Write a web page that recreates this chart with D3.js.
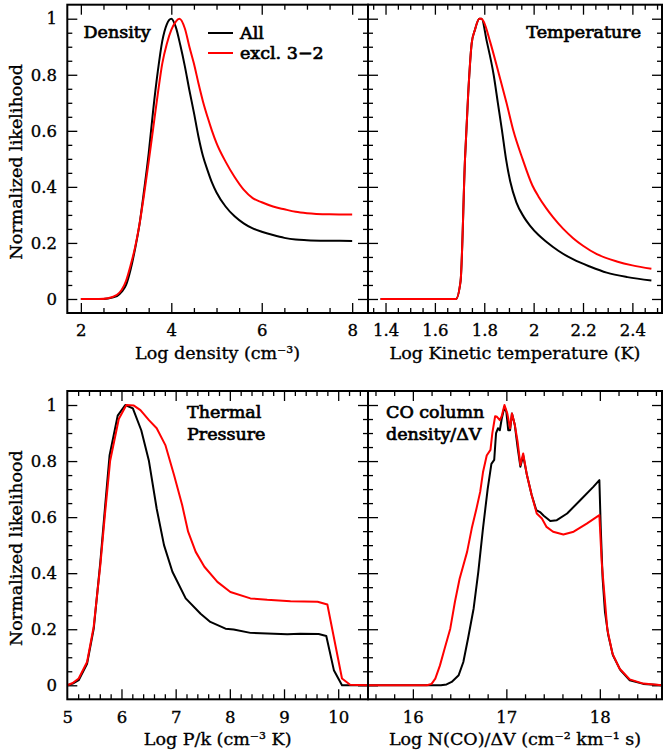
<!DOCTYPE html>
<html><head><meta charset="utf-8">
<script src="https://cdn.jsdelivr.net/npm/d3@7"></script>
<style>body{margin:0;background:#fff}svg{display:block}</style>
</head><body>
<svg id="c" width="663" height="755"></svg>
<script>
// ---------------- DATA ----------------
const seriesNames = ["All", "excl. 3\u22122"];
const seriesColors = ["#000000", "#ff0000"];

const densityAll = [[2.0,0],[2.4,0],[2.6,0.002],[2.8,0.01],[2.9,0.025],[3.0,0.05],[3.1,0.105],[3.2,0.18],[3.3,0.27],[3.4,0.39],[3.5,0.52],[3.6,0.675],[3.7,0.81],[3.8,0.92],[3.9,0.98],[4.0,1.0],[4.1,0.97],[4.2,0.905],[4.3,0.83],[4.4,0.745],[4.5,0.665],[4.6,0.58],[4.7,0.51],[4.8,0.46],[4.9,0.415],[5.0,0.38],[5.2,0.33],[5.4,0.295],[5.6,0.27],[5.8,0.252],[6.0,0.24],[6.25,0.228],[6.5,0.218],[6.75,0.212],[7.0,0.21],[7.5,0.208],[8.0,0.207]];
const densityExcl = [[2.0,0],[2.4,0],[2.6,0.003],[2.8,0.015],[2.9,0.032],[3.0,0.065],[3.1,0.12],[3.2,0.185],[3.3,0.27],[3.4,0.375],[3.5,0.49],[3.6,0.61],[3.7,0.73],[3.8,0.84],[3.9,0.91],[4.0,0.96],[4.1,0.99],[4.18,1.0],[4.3,0.965],[4.4,0.9],[4.5,0.84],[4.6,0.77],[4.7,0.705],[4.8,0.65],[4.9,0.6],[5.0,0.556],[5.2,0.49],[5.4,0.435],[5.6,0.39],[5.8,0.36],[6.0,0.345],[6.25,0.33],[6.5,0.32],[6.75,0.311],[7.0,0.306],[7.5,0.302],[8.0,0.301]];

const temperatureAll = [[1.38,0],[1.685,0],[1.704,0.064],[1.722,0.50],[1.735,0.734],[1.749,0.912],[1.762,0.96],[1.78,1.0],[1.789,1.0],[1.81,0.92],[1.838,0.8],[1.855,0.70],[1.872,0.6],[1.888,0.5],[1.905,0.42],[1.93,0.345],[1.96,0.293],[1.985,0.262],[2.02,0.228],[2.05,0.205],[2.1,0.172],[2.161,0.141],[2.23,0.115],[2.296,0.094],[2.38,0.078],[2.477,0.066]];
const temperatureExcl = [[1.38,0],[1.685,0],[1.704,0.064],[1.722,0.50],[1.735,0.734],[1.749,0.912],[1.762,0.96],[1.78,1.0],[1.789,1.0],[1.80,0.985],[1.823,0.92],[1.86,0.8],[1.89,0.70],[1.918,0.6],[1.955,0.5],[1.995,0.405],[2.02,0.365],[2.05,0.325],[2.08,0.29],[2.12,0.25],[2.16,0.217],[2.2,0.19],[2.256,0.16],[2.337,0.134],[2.4,0.12],[2.477,0.108]];

const pressureAll = [[5.0,0],[5.1,0.006],[5.21,0.018],[5.365,0.077],[5.488,0.202],[5.61,0.44],[5.70,0.643],[5.78,0.82],[5.93,0.962],[6.07,1.0],[6.21,0.988],[6.365,0.91],[6.507,0.80],[6.65,0.63],[6.785,0.50],[6.94,0.405],[7.185,0.31],[7.46,0.255],[7.64,0.226],[7.92,0.202],[8.07,0.199],[8.38,0.187],[8.69,0.185],[9.06,0.182],[9.30,0.184],[9.64,0.183],[9.78,0.176],[9.92,0.054],[10.07,0],[10.55,0]];
const pressureExcl = [[5.0,0],[5.1,0.008],[5.21,0.024],[5.365,0.083],[5.488,0.21],[5.61,0.43],[5.70,0.62],[5.79,0.80],[5.95,0.95],[6.09,1.0],[6.229,0.998],[6.35,0.982],[6.507,0.946],[6.65,0.917],[6.81,0.857],[6.97,0.75],[7.12,0.643],[7.23,0.548],[7.37,0.476],[7.53,0.423],[7.77,0.369],[8.01,0.333],[8.38,0.31],[8.69,0.305],[9.12,0.30],[9.62,0.298],[9.80,0.288],[10.07,0.024],[10.22,0.002],[10.55,0]];

const columnAll = [[15.52,0],[16.3,0],[16.36,0.003],[16.415,0.012],[16.49,0.036],[16.54,0.083],[16.59,0.167],[16.65,0.274],[16.70,0.405],[16.75,0.56],[16.80,0.70],[16.84,0.79],[16.87,0.804],[16.89,0.90],[16.91,0.917],[16.93,0.91],[16.95,0.95],[16.98,0.994],[17.0,0.975],[17.02,0.91],[17.04,0.91],[17.06,0.97],[17.09,0.93],[17.12,0.85],[17.15,0.78],[17.18,0.82],[17.22,0.75],[17.27,0.68],[17.32,0.625],[17.36,0.618],[17.40,0.605],[17.47,0.586],[17.54,0.589],[17.65,0.613],[17.79,0.66],[17.93,0.708],[17.995,0.732],[18.01,0.56],[18.03,0.38],[18.055,0.262],[18.09,0.179],[18.14,0.107],[18.22,0.054],[18.32,0.018],[18.465,0.005],[18.665,0]];
const columnExcl = [[15.52,0],[16.15,0],[16.20,0.005],[16.24,0.024],[16.29,0.071],[16.34,0.131],[16.40,0.202],[16.45,0.298],[16.50,0.38],[16.58,0.476],[16.63,0.56],[16.68,0.63],[16.72,0.69],[16.75,0.76],[16.79,0.82],[16.83,0.84],[16.85,0.90],[16.88,0.96],[16.90,0.958],[16.93,0.946],[16.95,0.96],[16.98,1.0],[17.01,0.97],[17.04,0.917],[17.06,0.97],[17.09,0.93],[17.12,0.87],[17.15,0.786],[17.18,0.827],[17.22,0.75],[17.27,0.68],[17.325,0.613],[17.38,0.595],[17.43,0.565],[17.50,0.548],[17.61,0.538],[17.72,0.548],[17.86,0.577],[17.995,0.607],[18.02,0.44],[18.05,0.32],[18.08,0.2],[18.135,0.113],[18.21,0.06],[18.32,0.021],[18.465,0.006],[18.665,0]];

const yTickValues = [0, 0.2, 0.4, 0.6, 0.8, 1];
const yTickLabels = ["0", "0.2", "0.4", "0.6", "0.8", "1"];
const densityTicks = [2, 4, 6, 8];
const temperatureTicks = [1.4, 1.6, 1.8, 2.0, 2.2, 2.4];
const temperatureTickLabels = ["1.4", "1.6", "1.8", "2", "2.2", "2.4"];
const pressureTicks = [5, 6, 7, 8, 9, 10];
const columnTicks = [16, 17, 18];

// ---------------- LAYOUT ----------------
const svg = d3.select("#c");
const FONT = "'DejaVu Serif', serif";
const colPx = [[67.3, 368], [368, 662]];
const rowPx = [[4.7, 313], [391, 699.3]];
const MAJ = 10, MIN = 5;

function stepValues(d0, d1, step) {
  const out = [];
  const s = Math.ceil(d0 / step - 1e-9);
  for (let k = s; k * step <= d1 + 1e-9; k++) out.push(+(k * step).toFixed(6));
  return out;
}

function drawAxis(g, gen, scale, values, size, fmt, pad) {
  const a = gen(scale).tickValues(values).tickSize(-size).tickPadding(pad || 0).tickFormat(fmt || (() => ""));
  g.call(a);
  g.select(".domain").remove();
  g.selectAll("line").attr("stroke", "#000").attr("stroke-width", 1.3);
  g.attr("font-family", FONT).attr("font-size", 16.5);
  g.selectAll("text").attr("fill", "#000").attr("stroke", "#000").attr("stroke-width", 0.35);
}

function panel(cfg) {
  const [x0, x1] = colPx[cfg.col];
  const [y0, y1] = rowPx[cfg.row];
  const x = d3.scaleLinear().domain(cfg.xDomain).range([x0, x1]);
  const y = d3.scaleLinear().domain([-0.05, 1.05]).range([y1, y0]);
  const g = svg.append("g");

  const inside = (sc, v) => { const p = sc(v); const r = sc.range(); return p > Math.min(...r) + 1 && p < Math.max(...r) - 1; };
  const xMinor = stepValues(cfg.xDomain[0], cfg.xDomain[1], cfg.xMinorStep)
      .filter(v => inside(x, v) && !cfg.xMajor.some(m => Math.abs(m - v) < 1e-6));
  const yMinor = stepValues(-0.05, 1.05, 0.05)
      .filter(v => inside(y, v) && !yTickValues.some(m => Math.abs(m - v) < 1e-6));

  const xMajorIn = cfg.xMajor.filter(v => inside(x, v));
  const lblMap = new Map(cfg.xMajor.map((v, i) => [v, cfg.xLabels[i]]));
  const bx = g.append("g").attr("transform", `translate(0,${y1})`);
  drawAxis(bx, d3.axisBottom, x, cfg.xMajor, MAJ, v => lblMap.get(v), 11.5);
  bx.selectAll("g.tick").filter(v => !inside(x, v)).select("line").remove();
  drawAxis(g.append("g").attr("transform", `translate(0,${y1})`), d3.axisBottom, x, xMinor, MIN);
  drawAxis(g.append("g").attr("transform", `translate(0,${y0})`), d3.axisTop, x, xMajorIn, MAJ);
  drawAxis(g.append("g").attr("transform", `translate(0,${y0})`), d3.axisTop, x, xMinor, MIN);
  const yLbl = new Map(yTickValues.map((v, i) => [v, yTickLabels[i]]));
  drawAxis(g.append("g").attr("transform", `translate(${x0},0)`), d3.axisLeft, y, yTickValues, MAJ, cfg.col === 0 ? (v => yLbl.get(v)) : null, 10.3);
  drawAxis(g.append("g").attr("transform", `translate(${x0},0)`), d3.axisLeft, y, yMinor, MIN);
  drawAxis(g.append("g").attr("transform", `translate(${x1},0)`), d3.axisRight, y, yTickValues, MAJ);
  drawAxis(g.append("g").attr("transform", `translate(${x1},0)`), d3.axisRight, y, yMinor, MIN);

  const line = d3.line().x(d => x(d[0])).y(d => y(d[1])).curve(cfg.curve);
  cfg.series.forEach((s, i) => {
    g.append("path").datum(s).attr("d", line).attr("fill", "none")
      .attr("stroke", seriesColors[i]).attr("stroke-width", 2).attr("stroke-linejoin", "round");
  });

  g.append("rect").attr("x", x0).attr("y", y0).attr("width", x1 - x0).attr("height", y1 - y0)
    .attr("fill", "none").attr("stroke", "#000").attr("stroke-width", 2);

  g.append("text").attr("x", (x0 + x1) / 2).attr("y", y1 + 45.5)
    .attr("text-anchor", "middle").attr("font-family", FONT).attr("font-size", 17.5)
    .attr("fill", "#000").attr("stroke", "#000").attr("stroke-width", 0.35)
    .text(cfg.xTitle);

  if (cfg.col === 0) {
    g.append("text").attr("transform", `translate(21.5,${(y0 + y1) / 2 + 3}) rotate(-90)`)
      .attr("text-anchor", "middle").attr("font-family", FONT).attr("font-size", 17.5)
      .attr("fill", "#000").attr("stroke", "#000").attr("stroke-width", 0.35)
      .text("Normalized likelihood");
  }
  cfg.label.forEach((ln, i) => {
    g.append("text").attr("x", cfg.labelX).attr("y", cfg.labelY + i * 21.5)
      .attr("text-anchor", cfg.labelAnchor).attr("font-family", FONT).attr("font-size", 17.5)
      .attr("fill", "#000").attr("stroke", "#000").attr("stroke-width", 0.7).text(ln);
  });
  return { g, x, y };
}

const p1 = panel({ col: 0, row: 0, xDomain: [1.7, 8.35], xMajor: densityTicks, xLabels: densityTicks.map(String), xMinorStep: 0.5,
  xTitle: "Log density (cm\u207B\u00B3)", series: [densityAll, densityExcl], curve: d3.curveMonotoneX,
  label: ["Density"], labelX: 83.5, labelY: 38.3, labelAnchor: "start" });
panel({ col: 1, row: 0, xDomain: [1.329, 2.52], xMajor: temperatureTicks, xLabels: temperatureTickLabels, xMinorStep: 0.05,
  xTitle: "Log Kinetic temperature (K)", series: [temperatureAll, temperatureExcl], curve: d3.curveMonotoneX,
  label: ["Temperature"], labelX: 641, labelY: 37.8, labelAnchor: "end" });
panel({ col: 0, row: 1, xDomain: [5, 10.55], xMajor: pressureTicks, xLabels: pressureTicks.map(String), xMinorStep: 0.2,
  xTitle: "Log P/k (cm\u207B\u00B3 K)", series: [pressureAll, pressureExcl], curve: d3.curveLinear,
  label: ["Thermal", "Pressure"], labelX: 187, labelY: 418.3, labelAnchor: "start" });
panel({ col: 1, row: 1, xDomain: [15.52, 18.665], xMajor: columnTicks, xLabels: columnTicks.map(String), xMinorStep: 0.2,
  xTitle: "Log N(CO)/\u0394V (cm\u207B\u00B2 km\u207B\u00B9 s)", series: [columnAll, columnExcl], curve: d3.curveLinear,
  label: ["CO column", "density/\u0394V"], labelX: 386, labelY: 418.3, labelAnchor: "start" });

const leg = p1.g.append("g");
seriesNames.forEach((n, i) => {
  const yy = 33 + i * 20;
  leg.append("line").attr("x1", 208).attr("x2", 233).attr("y1", yy).attr("y2", yy)
    .attr("stroke", seriesColors[i]).attr("stroke-width", 2);
  leg.append("text").attr("x", 240).attr("y", yy + 6).attr("font-family", FONT).attr("font-size", 17.5)
    .attr("fill", "#000").attr("stroke", "#000").attr("stroke-width", 0.7).text(n);
});
</script>
</body></html>
